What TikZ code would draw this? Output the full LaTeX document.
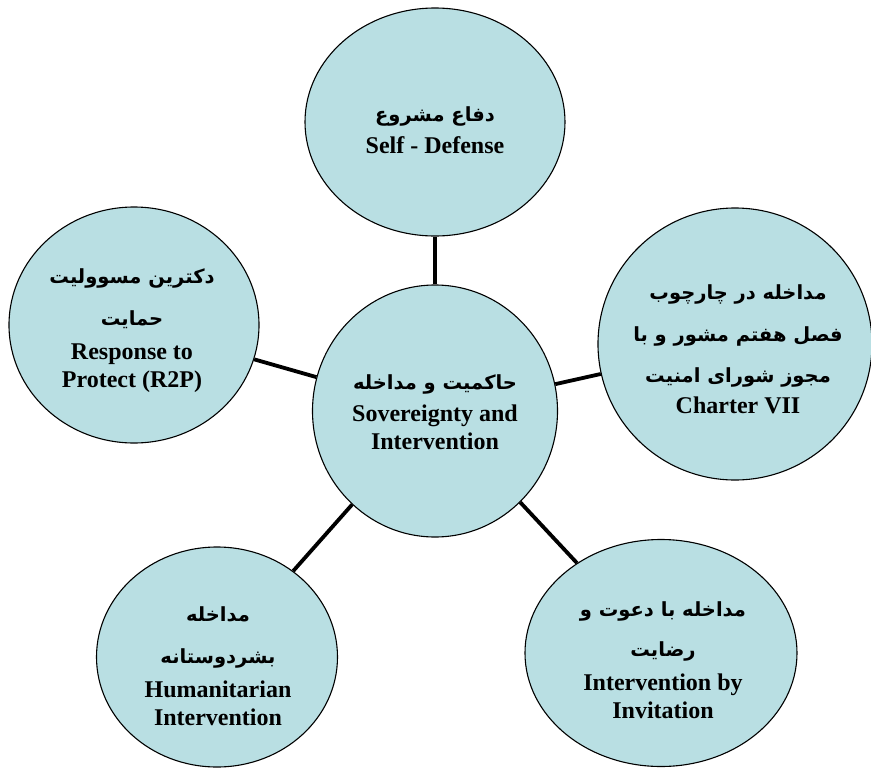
\documentclass[tikz,border=0pt]{standalone}
\usepackage{fontspec}
\setmainfont{Liberation Serif}
\newfontfamily\fafont[Script=Arabic]{DejaVu Sans}
\TeXXeTstate=1
\usetikzlibrary{shapes.geometric}
\definecolor{bubblefill}{RGB}{185,223,227}
\newcommand{\fa}[1]{{\fafont\fontsize{19.5}{24}\selectfont\bfseries\beginR #1\endR}}
\tikzset{
  bubble/.style={ellipse, draw=black, line width=1.1pt, fill=bubblefill, inner sep=0pt},
  conn/.style={draw=black, line width=3.8pt},
  txt/.style={align=center, font=\fontsize{24}{28}\selectfont\bfseries, inner sep=0pt}
}
\begin{document}
\begin{tikzpicture}[x=1pt,y=-1pt]
\useasboundingbox (0,0) rectangle (871,769);
\node[bubble, minimum width=245pt, minimum height=252pt] (hub) at (435,411) {};
\node[bubble, minimum width=260pt, minimum height=228pt] (top) at (435,122) {};
\node[bubble, minimum width=274pt, minimum height=272pt] (right) at (735,344) {};
\node[bubble, minimum width=250pt, minimum height=236pt] (ul) at (134,325) {};
\node[bubble, minimum width=241pt, minimum height=220pt] (ll) at (217,657) {};
\node[bubble, minimum width=272pt, minimum height=227pt] (lr) at (661,653) {};
\draw[conn] (hub) -- (top);
\draw[conn] (hub) -- (right);
\draw[conn] (hub) -- (ul);
\draw[conn] (hub) -- (ll);
\draw[conn] (hub) -- (lr);
\node[txt] (toptxt) at (435,130) {\fa{دفاع مشروع}\\[4pt] Self - Defense};
\node[txt] (hubtxt) at (435,412) {\fa{حاکمیت و مداخله}\\[4pt] Sovereignty and\\ Intervention};
\node[txt] (righttxt) at (738,349) {\fa{مداخله در چارچوب}\\[14pt] \fa{فصل هفتم مشور و با}\\[13pt] \fa{مجوز شورای امنیت}\\[3pt] Charter VII};
\node[txt] (ultxt) at (132,331) {\fa{دکترین مسوولیت}\\[14pt] \fa{حمایت}\\[6pt] Response to\\ Protect (R2P)};
\node[txt] (lltxt) at (218,666) {\fa{مداخله}\\[14pt] \fa{بشردوستانه}\\[6pt] Humanitarian\\ Intervention};
\node[txt] (lrtxt) at (663,660) {\fa{مداخله با دعوت و}\\[12pt] \fa{رضایت}\\[6pt] Intervention by\\ Invitation};
\end{tikzpicture}
\end{document}
